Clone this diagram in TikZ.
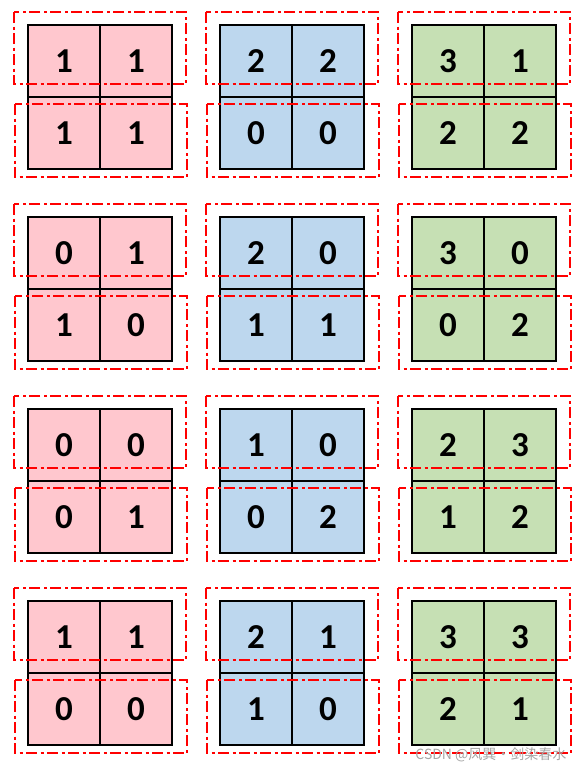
\documentclass[tikz,border=0pt]{standalone}
\usepackage{fontspec}
\setmainfont{Carlito}
\newfontfamily\cjk{Noto Sans CJK SC}
\usepackage{tikz}

\definecolor{cellred}{HTML}{FFC7CE}
\definecolor{cellblue}{HTML}{BDD7EE}
\definecolor{cellgreen}{HTML}{C6E0B4}

\begin{document}
\begin{tikzpicture}[x=1pt,y=-1pt,
    cell/.style={draw=black,line width=1.2pt,minimum size=72pt,inner sep=0pt,
                 font=\fontsize{35}{35}\selectfont\bfseries},
    window/.style={red,line width=1.3pt,dash pattern=on 11pt off 3.5pt on 3pt off 3.5pt}]

        \useasboundingbox (0,0) rectangle (584,774);

        % 2x2 blocks: column / row / colour / top-left, top-right, bottom-left, bottom-right
        \foreach \i/\j/\fc/\a/\b/\c/\d in {
            1/1/cellred/1/1/1/1,   2/1/cellblue/2/2/0/0, 3/1/cellgreen/3/1/2/2,
            1/2/cellred/0/1/1/0,   2/2/cellblue/2/0/1/1, 3/2/cellgreen/3/0/0/2,
            1/3/cellred/0/0/0/1,   2/3/cellblue/1/0/0/2, 3/3/cellgreen/2/3/1/2,
            1/4/cellred/1/1/0/0,   2/4/cellblue/2/1/1/0, 3/4/cellgreen/3/3/2/1} {
            \pgfmathsetmacro{\bx}{28+192*(\i-1)}
            \pgfmathsetmacro{\by}{25+192*(\j-1)}

            % Cells
            \node[cell,fill=\fc] (b\i\j-tl) at (\bx+36,\by+36) {\a};
            \node[cell,fill=\fc] (b\i\j-tr) at (\bx+108,\by+36) {\b};
            \node[cell,fill=\fc] (b\i\j-bl) at (\bx+36,\by+108) {\c};
            \node[cell,fill=\fc] (b\i\j-br) at (\bx+108,\by+108) {\d};

            % Dash-dot windows over the top and bottom rows
            \draw[window] (\bx-14,\by-13) rectangle (\bx+158,\by+59);
            \draw[window] (\bx-13,\by+79) rectangle (\bx+159,\by+152);
        }

        % Watermark
        \node[anchor=east,text=gray!70,font=\cjk\fontsize{14}{14}\selectfont] (mark) at (570,755) {CSDN @风巽·剑染春水};

\end{tikzpicture}
\end{document}
